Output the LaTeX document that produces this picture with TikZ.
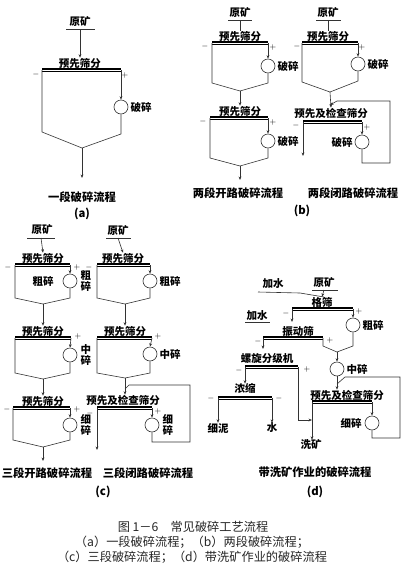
\documentclass[tikz,border=0pt]{standalone}
\usepackage{fontspec}
\newfontfamily\cjk{Noto Sans CJK SC}
\usetikzlibrary{arrows.meta}
\begin{document}
\begin{tikzpicture}[x=1pt,y=-1pt,
  ln/.style={draw=black!80, line width=0.6pt},
  arr/.style={ln, -{Stealth[length=3.5pt,width=2.8pt]}},
  screen/.style={draw=black, line width=1.1pt, double, double distance=0.9pt},
  crusher/.style={circle, draw=black!80, line width=0.6pt, minimum size=14pt, inner sep=0pt},
  lbl/.style={font=\cjk\bfseries\fontsize{10.5}{11.5}\selectfont, inner sep=0pt, align=center},
  captxt/.style={font=\cjk\bfseries\fontsize{11.3}{12}\selectfont, inner sep=0pt},
  sgn/.style={font=\fontsize{8}{8}\selectfont, inner sep=0pt},
  figtxt/.style={font=\cjk\fontsize{12.2}{13}\selectfont, inner sep=0pt, text=black!85}]
\useasboundingbox[fill=white] (0,0) rectangle (412,582);

% ---------------- (a) ----------------
\node[lbl] (aOre) at (80,22) {原矿};
\coordinate (aOreL) at (66,29); \coordinate (aOreR) at (95,29); \coordinate (aOreM) at (80,29);
\draw[ln] (aOreL) -- (aOreR);
\node[lbl] (aS1t) at (80,63) {预先筛分};
\draw[arr] (aOreM) -- (aS1t.north);
\coordinate (aS1l) at (42,70); \coordinate (aS1r) at (121,70);
\draw[screen] (aS1l) -- (aS1r);
\node[sgn] (aS1m) at (36,74) {$-$};
\node[sgn] (aS1p) at (125,75) {$+$};
\node[crusher] (aC1) at (121,107) {};
\node[lbl,anchor=west] (aC1t) at ([xshift=2pt]aC1.east) {破碎};
\coordinate (aJ1) at (82,148);
\coordinate (aOut) at (82,178);
\draw[arr] (aS1r) -- (aC1.north);
\draw[ln] (aC1.south) -- (121,134) -- (aJ1);
\draw[ln] (aS1l) -- (42,132) -- (aJ1);
\draw[arr] (aJ1) -- (aOut);
\node[captxt] (aCap) at (82,197) {一段破碎流程};
\node[captxt] (aTag) at (82,214) {(a)};

% ---------------- (b) left ----------------
\node[lbl] (bLOre) at (240,13) {原矿};
\coordinate (bLOreL) at (228,20); \coordinate (bLOreR) at (252,20); \coordinate (bLOreM) at (240,20);
\draw[ln] (bLOreL) -- (bLOreR);
\node[lbl] (bLS1t) at (240,36) {预先筛分};
\draw[ln] (bLOreM) -- (bLS1t.north);
\coordinate (bLS1l) at (212,43); \coordinate (bLS1r) at (268,43);
\draw[screen] (bLS1l) -- (bLS1r);
\node[sgn] (bLS1m) at (205,46) {$-$};
\node[sgn] (bLS1p) at (273,47) {$+$};
\node[crusher] (bLC1) at (268,66) {};
\node[lbl,anchor=west] (bLC1t) at ([xshift=2pt]bLC1.east) {破碎};
\coordinate (bLJ1) at (240,91);
\draw[arr] (bLS1r) -- (bLC1.north);
\draw[ln] (bLS1l) -- (212,83) -- (bLJ1);
\draw[ln] (bLC1.south) -- (268,83) -- (bLJ1);
\node[lbl] (bLS2t) at (240,111) {预先筛分};
\draw[arr] (bLJ1) -- (bLS2t.north);
\coordinate (bLS2l) at (210,118); \coordinate (bLS2r) at (268,118);
\draw[screen] (bLS2l) -- (bLS2r);
\node[sgn] (bLS2m) at (203,121) {$-$};
\node[sgn] (bLS2p) at (273,122) {$+$};
\node[crusher] (bLC2) at (268,141) {};
\node[lbl,anchor=west] (bLC2t) at ([xshift=2pt]bLC2.east) {破碎};
\coordinate (bLJ2) at (240,166);
\coordinate (bLOut) at (240,180);
\draw[arr] (bLS2r) -- (bLC2.north);
\draw[ln] (bLS2l) -- (210,158) -- (bLJ2);
\draw[ln] (bLC2.south) -- (268,158) -- (bLJ2);
\draw[arr] (bLJ2) -- (bLOut);
\node[captxt] (bLCap) at (238,193) {两段开路破碎流程};

% ---------------- (b) right ----------------
\node[lbl] (bROre) at (328,13) {原矿};
\coordinate (bROreL) at (316,20); \coordinate (bROreR) at (341,20); \coordinate (bROreM) at (328,20);
\draw[ln] (bROreL) -- (bROreR);
\node[lbl] (bRS1t) at (328,36) {预先筛分};
\draw[ln] (bROreM) -- (bRS1t.north);
\coordinate (bRS1l) at (302,43); \coordinate (bRS1r) at (358,43);
\draw[screen] (bRS1l) -- (bRS1r);
\node[sgn] (bRS1m) at (297,46) {$-$};
\node[sgn] (bRS1p) at (362,47) {$+$};
\node[crusher] (bRC1) at (358,64) {};
\node[lbl,anchor=west] (bRC1t) at ([xshift=2pt]bRC1.east) {破碎};
\coordinate (bRJ1) at (330,92);
\draw[arr] (bRS1r) -- (bRC1.north);
\draw[ln] (bRS1l) -- (302,82) -- (bRJ1);
\draw[ln] (bRC1.south) -- (358,81) -- (bRJ1);
\node[lbl] (bRS2t) at (331,113) {预先及检查筛分};
\coordinate (bRMg) at (330,105);
\draw[arr] (bRJ1) -- (bRS2t.north);
\coordinate (bRS2l) at (303,122); \coordinate (bRS2r) at (362,122);
\draw[screen] (bRS2l) -- (bRS2r);
\node[sgn] (bRS2m) at (296,125) {$-$};
\node[sgn] (bRS2p) at (367,127) {$+$};
\node[crusher] (bRC2) at (362,142) {};
\node[lbl,anchor=east] (bRC2t) at ([xshift=-2pt]bRC2.west) {破碎};
\coordinate (bROut) at (303,156);
\draw[arr] (bRS2r) -- (bRC2.north);
\draw[arr] (bRC2.south) -- (362,163) -- (390,163) -- (390,101) -- (337,101) -- (bRMg);
\draw[arr] (bRS2l) -- (bROut);
\node[captxt] (bRCap) at (353,193) {两段闭路破碎流程};
\node[captxt] (bTag) at (302,211) {(b)};

% ---------------- (c) left ----------------
\node[lbl] (cLOre) at (42,230) {原矿};
\coordinate (cLOreL) at (27,238); \coordinate (cLOreR) at (55,238); \coordinate (cLOreM) at (41,238);
\draw[ln] (cLOreL) -- (cLOreR);
\node[lbl] (cLS1t) at (43,258) {预先筛分};
\draw[arr] (cLOreM) -- (cLS1t.north);
\coordinate (cLS1l) at (15,265); \coordinate (cLS1r) at (70,265);
\draw[screen] (cLS1l) -- (cLS1r);
\node[sgn] (cLS1m) at (8,267) {$-$};
\node[sgn] (cLS1p) at (77,267) {$+$};
\node[crusher] (cLC1) at (70,281) {};
\node[lbl] (cLC1a) at (43,281) {粗碎};
\node[lbl,anchor=west] (cLC1t) at ([xshift=3pt]cLC1.east) {粗\\碎};
\coordinate (cLJ1) at (43,304);
\draw[arr] (cLS1r) -- (cLC1.north);
\draw[ln] (cLS1l) -- (15,298) -- (cLJ1);
\draw[ln] (cLC1.south) -- (70,298) -- (cLJ1);
\node[lbl] (cLS2t) at (43,331) {预先筛分};
\draw[arr] (cLJ1) -- (cLS2t.north);
\coordinate (cLS2l) at (15,338); \coordinate (cLS2r) at (71,338);
\draw[screen] (cLS2l) -- (cLS2r);
\node[sgn] (cLS2p) at (78,336) {$+$};
\node[crusher] (cLC2) at (70,355) {};
\node[lbl,anchor=west] (cLC2t) at ([xshift=3pt]cLC2.east) {中\\碎};
\coordinate (cLJ2) at (43,379);
\draw[arr] (cLS2r) -- (cLC2.north);
\draw[ln] (cLS2l) -- (15,373) -- (cLJ2);
\draw[ln] (cLC2.south) -- (70,373) -- (cLJ2);
\node[lbl] (cLS3t) at (43,401) {预先筛分};
\draw[arr] (cLJ2) -- (cLS3t.north);
\coordinate (cLS3l) at (13,408); \coordinate (cLS3r) at (70,408);
\draw[screen] (cLS3l) -- (cLS3r);
\node[sgn] (cLS3m) at (7,409) {$-$};
\node[sgn] (cLS3p) at (77,409) {$+$};
\node[crusher] (cLC3) at (70,425) {};
\node[lbl,anchor=west] (cLC3t) at ([xshift=3pt]cLC3.east) {细\\碎};
\coordinate (cLJ3) at (43,447);
\coordinate (cLOut) at (43,461);
\draw[arr] (cLS3r) -- (cLC3.north);
\draw[ln] (cLS3l) -- (13,440) -- (cLJ3);
\draw[ln] (cLC3.south) -- (70,440) -- (cLJ3);
\draw[arr] (cLJ3) -- (cLOut);
\node[captxt] (cLCap) at (47,473) {三段开路破碎流程};

% ---------------- (c) right ----------------
\node[lbl] (cROre) at (118,231) {原矿};
\coordinate (cROreL) at (106,238); \coordinate (cROreR) at (131,238); \coordinate (cROreM) at (118,238);
\draw[ln] (cROreL) -- (cROreR);
\node[lbl] (cRS1t) at (123,258) {预先筛分};
\draw[arr] (cROreM) -- (cRS1t.north);
\coordinate (cRS1l) at (97,265); \coordinate (cRS1r) at (150,265);
\draw[screen] (cRS1l) -- (cRS1r);
\node[sgn] (cRS1m) at (89,267) {$-$};
\node[crusher] (cRC1) at (150,281) {};
\node[lbl,anchor=west] (cRC1t) at ([xshift=2pt]cRC1.east) {粗碎};
\coordinate (cRJ1) at (125,304);
\draw[arr] (cRS1r) -- (cRC1.north);
\draw[ln] (cRS1l) -- (97,298) -- (cRJ1);
\draw[ln] (cRC1.south) -- (150,298) -- (cRJ1);
\node[lbl] (cRS2t) at (125,331) {预先筛分};
\draw[arr] (cRJ1) -- (cRS2t.north);
\coordinate (cRS2l) at (97,338); \coordinate (cRS2r) at (152,338);
\draw[screen] (cRS2l) -- (cRS2r);
\node[sgn] (cRS2p) at (158,336) {$+$};
\node[crusher] (cRC2) at (150,354) {};
\node[lbl,anchor=west] (cRC2t) at ([xshift=2pt]cRC2.east) {中碎};
\coordinate (cRJ2) at (125,378);
\draw[arr] (cRS2r) -- (cRC2.north);
\draw[ln] (cRS2l) -- (97,373) -- (cRJ2);
\draw[ln] (cRC2.south) -- (150,373) -- (cRJ2);
\node[lbl] (cRS3t) at (123,400) {预先及检查筛分};
\coordinate (cRMg) at (125,389);
\draw[arr] (cRJ2) -- (cRJ2 |- cRS3t.north);
\coordinate (cRS3l) at (97,408); \coordinate (cRS3r) at (152,408);
\draw[screen] (cRS3l) -- (cRS3r);
\node[sgn] (cRS3m) at (90,413) {$-$};
\node[sgn] (cRS3p) at (158,411) {$+$};
\node[crusher] (cRC3) at (152,425) {};
\node[lbl,anchor=west] (cRC3t) at ([xshift=3pt]cRC3.east) {细\\碎};
\coordinate (cROut) at (97,450);
\draw[arr] (cRS3r) -- (cRC3.north);
\draw[ln] (cRC3.south) -- (152,442) -- (190,442) -- (190,385) -- (129,385) -- (cRMg);
\draw[arr] (cRS3l) -- (cROut);
\node[captxt] (cRCap) at (148,473) {三段闭路破碎流程};
\node[captxt] (cTag) at (103,492) {(c)};

% ---------------- (d) ----------------
\node[lbl] (dW1) at (273,284) {加水};
\node[lbl] (dOre) at (324,283) {原矿};
\coordinate (dOreL) at (312,290); \coordinate (dOreR) at (338,290); \coordinate (dOreM) at (324,290);
\draw[ln] (dOreL) -- (dOreR);
\coordinate (dW1a) at (258,292); \coordinate (dW1b) at (300,293); \coordinate (dW1c) at (324,297);
\draw[ln] (dW1a) -- (dW1b) -- (dW1c);
\node[lbl] (dS1t) at (322,302) {格筛};
\draw[arr] (dOreM) -- (dS1t.north);
\coordinate (dS1l) at (292,309); \coordinate (dS1r) at (353,309);
\draw[screen] (dS1l) -- (dS1r);
\node[sgn] (dS1m) at (286,313) {$-$};
\node[sgn] (dS1p) at (359,311) {$+$};
\node[crusher] (dC1) at (353,325) {};
\node[lbl,anchor=west] (dC1t) at ([xshift=2pt]dC1.east) {粗碎};
\draw[arr] (dS1r) -- (dC1.north);
\coordinate (dS1d) at (292,322);
\draw[arr] (dS1l) -- (dS1d);
\node[lbl] (dW2) at (257,316) {加水};
\coordinate (dW2a) at (245,322); \coordinate (dW2b) at (270,322);
\draw[ln] (dW2a) -- (dW2b);
\node[lbl] (dS2t) at (298,331) {振动筛};
\coordinate (dS2l) at (263,338); \coordinate (dS2r) at (323,338);
\draw[screen] (dS2l) -- (dS2r);
\node[sgn] (dS2m) at (258,341) {$-$};
\node[sgn] (dS2p) at (330,340) {$+$};
\coordinate (dJ1) at (337,352);
\draw[ln] (dS2r) -- (323,346) -- (dJ1);
\draw[ln] (dC1.south) -- (353,346) -- (dJ1);
\node[crusher] (dC2) at (337,369) {};
\node[lbl,anchor=west] (dC2t) at ([xshift=2pt]dC2.east) {中碎};
\draw[arr] (dJ1) -- (dC2.north);
\node[lbl] (dS4t) at (347,395) {预先及检查筛分};
\coordinate (dMg) at (337,384);
\draw[arr] (dC2.south) -- (dC2.south |- dS4t.north);
\coordinate (dS4l) at (312,402); \coordinate (dS4r) at (372,402);
\draw[screen] (dS4l) -- (dS4r);
\node[crusher] (dC3) at (372,423) {};
\node[lbl,anchor=east] (dC3t) at ([xshift=-3pt]dC3.west) {细碎};
\draw[arr] (dS4r) -- (dC3.north);
\draw[ln] (dC3.south) -- (372,438) -- (400,438) -- (400,377) -- (345,377) -- (dMg);
\node[lbl] (dProd) at (311,445) {洗矿};
\draw[arr] (dS4l) -- (dS4l |- dProd.north);
\coordinate (dS2d) at (263,349);
\draw[arr] (dS2l) -- (dS2d);
\node[lbl] (dS3t) at (267,358) {螺旋分级机};
\coordinate (dS3l) at (245,367); \coordinate (dS3r) at (298,367);
\draw[screen] (dS3l) -- (dS3r);
\node[sgn] (dS3m) at (239,370) {$-$};
\node[sgn] (dS3p) at (307,369) {$+$};
\coordinate (dS3j) at (312,420);
\draw[arr] (dS3r) -- (298,420) -- (dS3j);
\node[lbl] (dS5t) at (245,389) {浓缩};
\draw[arr] (dS3l) -- (dS5t.north);
\coordinate (dS5l) at (218,398); \coordinate (dS5r) at (272,398);
\draw[screen] (dS5l) -- (dS5r);
\node[sgn] (dS5m) at (211,398) {$-$};
\node[sgn] (dS5p) at (279,398) {$-$};
\node[lbl] (dSlime) at (218,428) {细泥};
\node[lbl] (dWater) at (272,428) {水};
\draw[arr] (dS5l) -- (dSlime.north);
\draw[arr] (dS5r) -- (dWater.north);
\node[captxt] (dCap) at (315,472) {带洗矿作业的破碎流程};
\node[captxt] (dTag) at (315,492) {(d)};

% ---------------- figure caption ----------------
\node[figtxt] (fTitle) at (193,527) {图 1－6\quad 常见破碎工艺流程};
\node[figtxt] (fLine1) at (192,542) {（a）一段破碎流程；（b）两段破碎流程；};
\node[figtxt] (fLine2) at (192,557) {（c）三段破碎流程；（d）带洗矿作业的破碎流程};
\end{tikzpicture}
\end{document}
